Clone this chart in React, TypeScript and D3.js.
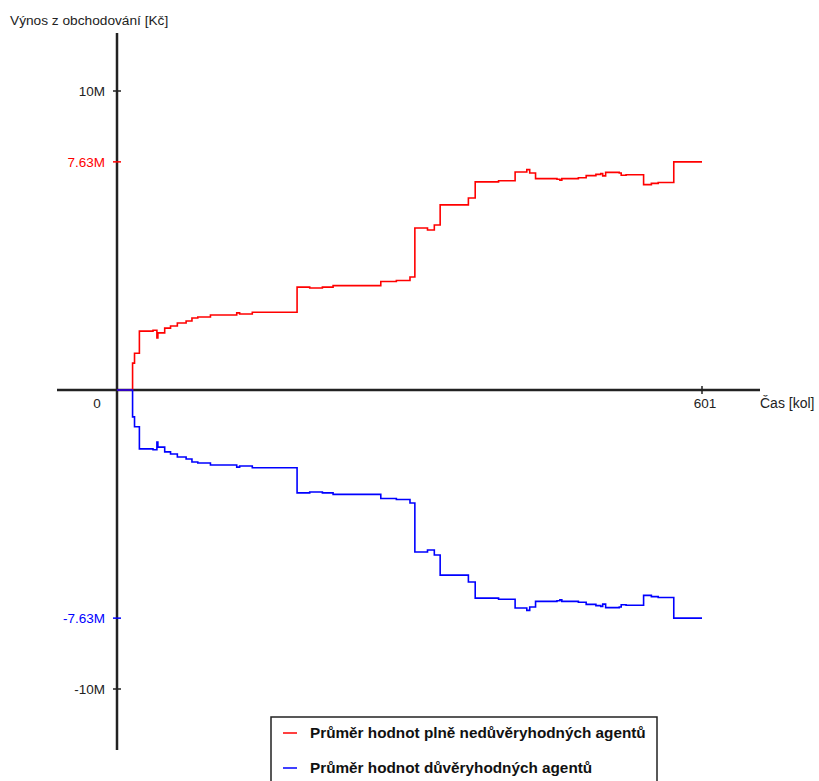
import React from "react";
import * as d3 from "d3";

// Average trading yield per round (millions of Kč), stored as step breakpoints [round, value]
const untrustedRounds = [0, 15, 16, 18, 23, 37, 41, 42, 49, 55, 62, 71, 77, 83, 96, 123, 126, 139, 185, 198, 211, 222, 271, 287, 301, 306, 319, 326, 332, 361, 368, 392, 409, 421, 424, 430, 452, 455, 457, 474, 482, 492, 497, 499, 502, 516, 518, 523, 541, 549, 556, 572, 601];
const untrustedValues = [0, 0, 0.9, 1.23, 1.97, 2.0, 1.74, 1.91, 2.07, 2.14, 2.24, 2.31, 2.41, 2.44, 2.51, 2.58, 2.54, 2.6, 3.44, 3.41, 3.44, 3.49, 3.63, 3.66, 3.78, 5.42, 5.35, 5.52, 6.19, 6.42, 6.96, 7.0, 7.29, 7.37, 7.26, 7.07, 7.05, 7.02, 7.07, 7.1, 7.17, 7.21, 7.24, 7.16, 7.28, 7.26, 7.18, 7.2, 6.87, 6.91, 6.94, 7.63, 7.63];

const trustedRounds = [0, 15, 16, 18, 23, 37, 41, 42, 49, 55, 62, 71, 77, 83, 96, 123, 126, 139, 185, 198, 211, 222, 271, 287, 301, 306, 319, 326, 332, 361, 368, 392, 409, 421, 424, 430, 452, 455, 457, 474, 482, 492, 497, 499, 502, 516, 518, 523, 541, 549, 556, 572, 601];
const trustedValues = [0, 0, -0.9, -1.23, -1.97, -2.0, -1.74, -1.91, -2.07, -2.14, -2.24, -2.31, -2.41, -2.44, -2.51, -2.58, -2.54, -2.6, -3.44, -3.41, -3.44, -3.49, -3.63, -3.66, -3.78, -5.42, -5.35, -5.52, -6.19, -6.42, -6.96, -7.0, -7.29, -7.37, -7.26, -7.07, -7.05, -7.02, -7.07, -7.1, -7.17, -7.21, -7.24, -7.16, -7.28, -7.26, -7.18, -7.2, -6.87, -6.91, -6.94, -7.63, -7.63];

const yTickValues = [10, 7.63, -7.63, -10];
const yTickLabels = ["10M", "7.63M", "-7.63M", "-10M"];
const yTickColors = ["#222", "#ff0000", "#0000ff", "#222"];

const xMax = 601;
const seriesNames = ["Průměr hodnot plně nedůvěryhodných agentů", "Průměr hodnot důvěryhodných agentů"];
const seriesColors = ["#ff0000", "#0000ff"];

const W = 819;
const H = 781;

export default function App() {
  const x = d3.scaleLinear().domain([0, xMax]).range([117, 702]);
  const y = d3.scaleLinear().domain([-10, 10]).range([689, 91]);

  const line = d3
    .line<[number, number]>()
    .x((d) => x(d[0]))
    .y((d) => y(d[1]))
    .curve(d3.curveStepAfter);

  const red = untrustedRounds.map((r, i) => [r, untrustedValues[i]] as [number, number]);
  const blue = trustedRounds.map((r, i) => [r, trustedValues[i]] as [number, number]);

  const font = "'Liberation Sans', Arial, sans-serif";
  const x0 = x(0);
  const y0 = y(0);

  return (
    <svg
      width={W}
      height={H}
      style={{ position: "absolute", left: 0, top: 0, background: "#fff" }}
      fontFamily={font}
    >
      <rect width={W} height={H} fill="#fff" />

      {/* axes */}
      <line x1={57} x2={760} y1={y0} y2={y0} stroke="#222" strokeWidth={2.5} />
      <line x1={x0} x2={x0} y1={33} y2={750} stroke="#222" strokeWidth={2.5} />

      {/* y ticks */}
      {yTickValues.map((v, i) => (
        <g key={i}>
          <line x1={x0 - 4} x2={x0 + 4} y1={y(v)} y2={y(v)} stroke={i === 0 || i === 3 ? "#222" : yTickColors[i]} strokeWidth={1.5} />
          <text x={105} y={y(v)} dy="0.35em" textAnchor="end" fontSize={13.5} fill={yTickColors[i]}>
            {yTickLabels[i]}
          </text>
        </g>
      ))}

      {/* x tick */}
      <line x1={x(xMax)} x2={x(xMax)} y1={y0 - 4} y2={y0 + 4} stroke="#222" strokeWidth={1.5} />
      <text x={x(xMax) + 3} y={y0 + 13} dy="0.35em" textAnchor="middle" fontSize={13.5} fill="#222">
        {xMax}
      </text>
      <text x={97} y={y0 + 13} dy="0.35em" textAnchor="middle" fontSize={13.5} fill="#222">
        0
      </text>

      {/* axis titles */}
      <text x={10} y={20} dy="0.35em" fontSize={13.7} fill="#222">
        Výnos z obchodování [Kč]
      </text>
      <text x={760} y={y0 + 13} dy="0.35em" fontSize={14} fill="#222">
        Čas [kol]
      </text>

      {/* series */}
      <path d={line(red) || ""} fill="none" stroke={seriesColors[0]} strokeWidth={1.6} />
      <path d={line(blue) || ""} fill="none" stroke={seriesColors[1]} strokeWidth={1.6} />

      {/* legend */}
      <rect x={271} y={717} width={386} height={80} fill="#fff" stroke="#222" strokeWidth={1.5} />
      {seriesNames.map((name, i) => (
        <g key={name} transform={`translate(0, ${733 + i * 35})`}>
          <line x1={283} x2={297} y1={0} y2={0} stroke={seriesColors[i]} strokeWidth={1.5} />
          <text x={310} y={0} dy="0.35em" fontSize={15.3} fontWeight="bold" fill="#111">
            {name}
          </text>
        </g>
      ))}
    </svg>
  );
}
